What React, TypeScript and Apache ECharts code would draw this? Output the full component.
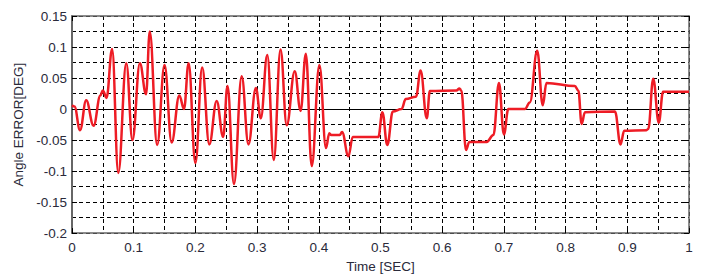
import React, { useEffect, useRef } from "react";
import * as echarts from "echarts";

const timeSec: number[] = [
  0.0, 0.004, 0.013, 0.023, 0.035, 0.046, 0.05, 0.056, 0.065, 0.075, 0.088, 0.098,
  0.11, 0.12, 0.126, 0.138, 0.15, 0.1615, 0.174, 0.1815, 0.189, 0.2, 0.211, 0.2225,
  0.2345, 0.245, 0.252, 0.2625, 0.275, 0.286, 0.298, 0.306, 0.3165, 0.327, 0.338,
  0.348, 0.361, 0.3705, 0.379, 0.3885, 0.401, 0.4117, 0.417, 0.42, 0.434, 0.4377,
  0.448, 0.455, 0.4965, 0.503, 0.511, 0.52, 0.534, 0.541, 0.5575, 0.565, 0.575,
  0.58, 0.623, 0.628, 0.631, 0.6386, 0.644, 0.672, 0.683, 0.692, 0.7, 0.7072, 0.734,
  0.742, 0.754, 0.763, 0.769, 0.815, 0.8206, 0.826, 0.8314, 0.88, 0.889, 0.895,
  0.931, 0.934, 0.942, 0.951, 0.958, 1.0,
];

const angleError: number[] = [
  0.006, 0.004, -0.034, 0.014, -0.027, 0.022, 0.03, 0.018, 0.097, -0.103, 0.074, -0.05,
  0.074, 0.024, 0.125, -0.058, 0.071, -0.054, 0.022, 0.0, 0.074, -0.087, 0.067, -0.057,
  0.013, -0.045, 0.037, -0.121, 0.053, -0.057, 0.034, -0.015, 0.087, -0.082, 0.096,
  -0.026, 0.061, -0.003, 0.089, -0.092, 0.071, -0.063, -0.039, -0.042, -0.042, -0.037,
  -0.076, -0.045, -0.045, -0.005, -0.058, -0.004, 0.0, 0.016, 0.02, 0.062, -0.015,
  0.029, 0.03, 0.033, 0.03, -0.066, -0.053, -0.053, -0.042, 0.042, -0.041, 0.0, 0.0,
  0.0105, 0.094, 0.006, 0.042, 0.037, 0.03, -0.024, -0.005, -0.004, -0.057, -0.035,
  -0.034, -0.032, 0.049, -0.022, 0.028, 0.028,
];

const xTickLabels = ["0", "0.1", "0.2", "0.3", "0.4", "0.5", "0.6", "0.7", "0.8", "0.9", "1"];
const yTickLabels = ["-0.2", "-0.15", "-0.1", "-0.05", "0", "0.05", "0.1", "0.15"];

const fmt = (v: number) => String(parseFloat(v.toFixed(3)));

export default function App() {
  const ref = useRef<HTMLDivElement>(null);
  useEffect(() => {
    if (!ref.current) return;
    const chart = echarts.init(ref.current, undefined, { renderer: "svg" });
    const dash = { color: "#000", width: 1, type: [4, 3] as number[] };
    const frame = { color: "#666", width: 1.5 };
    const labelStyle = {
      color: "#2a2a3a",
      fontFamily: "Liberation Sans, Arial, sans-serif",
      fontSize: 13.5,
    };
    const data = timeSec.map((t, i) => [t, angleError[i]]);
    chart.setOption({
      animation: false,
      backgroundColor: "#fff",
      grid: { left: 72, right: 13, top: 16, bottom: 40 },
      xAxis: [
        {
          type: "value",
          position: "bottom",
          min: 0,
          max: 1,
          interval: 0.1,
          name: "Time [SEC]",
          nameLocation: "middle",
          nameGap: 24,
          nameTextStyle: { ...labelStyle },
          axisLine: { show: true, onZero: false, lineStyle: frame },
          axisTick: { show: true, inside: true, length: 5, lineStyle: { color: "#000" } },
          axisLabel: {
            ...labelStyle,
            margin: 7,
            formatter: (v: number) => {
              const s = fmt(v);
              return xTickLabels.includes(s) ? s : "";
            },
          },
          splitLine: { show: true, lineStyle: dash },
          minorTick: { show: false, splitNumber: 2 },
          minorSplitLine: { show: true, lineStyle: dash },
        },
        {
          type: "value",
          position: "top",
          min: 0,
          max: 1,
          interval: 0.1,
          axisLine: { show: true, onZero: false, lineStyle: frame },
          axisTick: { show: true, inside: true, length: 5, lineStyle: { color: "#000" } },
          axisLabel: { show: false },
          splitLine: { show: false },
        },
      ],
      yAxis: [
        {
          type: "value",
          position: "left",
          min: -0.2,
          max: 0.15,
          interval: 0.05,
          name: "Angle ERROR[DEG]",
          nameLocation: "middle",
          nameGap: 47,
          nameTextStyle: { ...labelStyle },
          axisLine: { show: true, onZero: false, lineStyle: { color: "#666", width: 2 } },
          axisTick: { show: true, inside: true, length: 5, lineStyle: { color: "#000" } },
          axisLabel: {
            ...labelStyle,
            margin: 5,
            formatter: (v: number) => {
              const s = fmt(v);
              return yTickLabels.includes(s) ? s : "";
            },
          },
          splitLine: { show: true, lineStyle: dash },
          minorTick: { show: false, splitNumber: 2 },
          minorSplitLine: { show: true, lineStyle: dash },
        },
        {
          type: "value",
          position: "right",
          min: -0.2,
          max: 0.15,
          interval: 0.05,
          axisLine: { show: true, onZero: false, lineStyle: frame },
          axisTick: { show: true, inside: true, length: 5, lineStyle: { color: "#000" } },
          axisLabel: { show: false },
          splitLine: { show: false },
        },
      ],
      series: [
        {
          type: "line",
          xAxisIndex: 0,
          yAxisIndex: 0,
          data,
          showSymbol: false,
          symbol: "none",
          smooth: 0.4,
          smoothMonotone: "x",
          lineStyle: { color: "#ee1c25", width: 2.5 },
          markLine: {
            silent: true,
            symbol: "none",
            label: { show: false },
            lineStyle: { color: "#000", width: 1.2, type: "solid" },
            data: [{ yAxis: 0 }],
            z: 1,
          },
          z: 3,
        },
      ],
    });
    return () => chart.dispose();
  }, []);
  return (
    <div
      ref={ref}
      style={{ position: "absolute", left: 0, top: 0, width: 702, height: 278 }}
    />
  );
}
